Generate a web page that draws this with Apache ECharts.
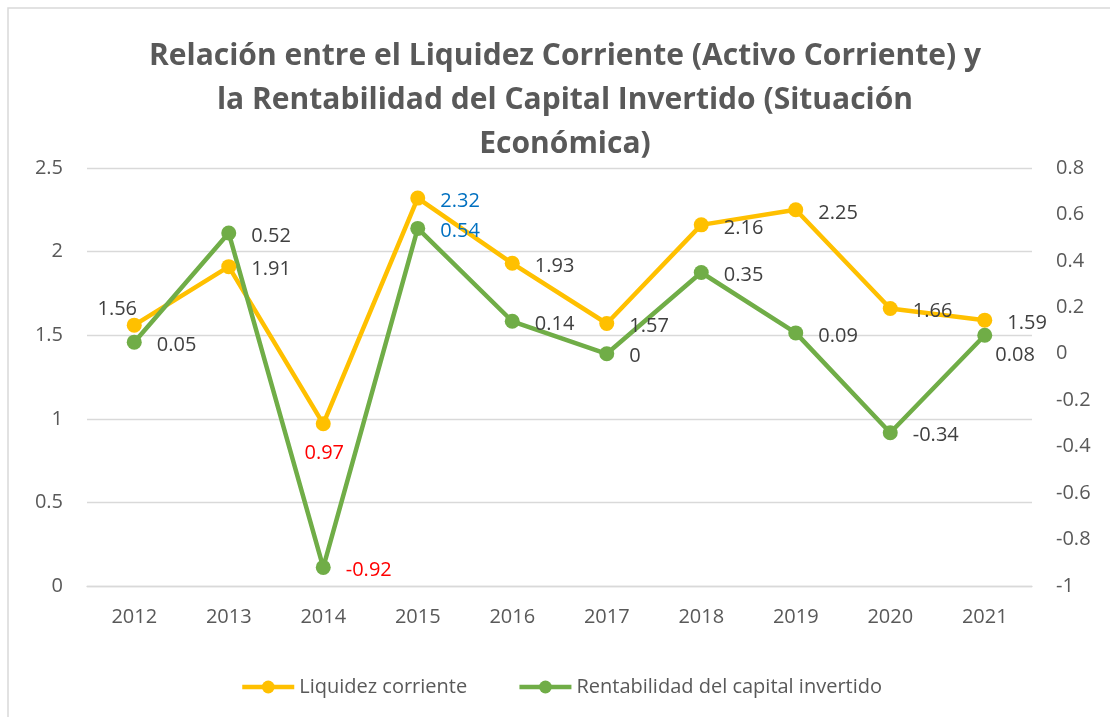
<!DOCTYPE html>
<html lang="es">
<head>
<meta charset="utf-8">
<title>Liquidez corriente vs Rentabilidad</title>
<script src="https://cdn.jsdelivr.net/npm/echarts@6/dist/echarts.min.js"></script>
<style>
    html, body { margin: 0; padding: 0; background: #fff; }
    #chart { width: 1110px; height: 717px; }
</style>
</head>
<body>
<div id="chart"></div>
<script>
// datos
var years = ['2012', '2013', '2014', '2015', '2016', '2017', '2018', '2019', '2020', '2021'];
var liquidez = [1.56, 1.91, 0.97, 2.32, 1.93, 1.57, 2.16, 2.25, 1.66, 1.59];
var rentabilidad = [0.05, 0.52, -0.92, 0.54, 0.14, 0, 0.35, 0.09, -0.34, 0.08];

var FONT = '"Open Sans", "Noto Sans", sans-serif';
var AMARILLO = '#FFC000';
var VERDE = '#70AD47';

// ajustes de etiquetas por punto (color / posicion)
var ajusteLiq = {
    0: { position: 'top', distance: 0, offset: [-17, 2] },
    2: { position: 'bottom', distance: 12, offset: [1, 0], color: '#FF0000' },
    3: { color: '#0070C0' }
};
var ajusteRent = {
    2: { color: '#FF0000' },
    3: { color: '#0070C0' },
    9: { offset: [-12, 20] }
};

function puntos(valores, ajustes) {
    return valores.map(function (v, i) {
        var d = { value: v };
        if (ajustes[i]) d.label = ajustes[i];
        return d;
    });
}

function serie(nombre, valores, color, ajustes, eje) {
    return {
        name: nombre,
        type: 'line',
        yAxisIndex: eje,
        data: puntos(valores, ajustes),
        symbol: 'circle',
        symbolSize: 15,
        lineStyle: { color: color, width: 4.5 },
        itemStyle: { color: color },
        label: {
            show: true,
            position: 'right',
            distance: 15,
            offset: [0, 3],
            color: '#404040',
            fontFamily: FONT,
            fontSize: 20
        },
        emphasis: { disabled: true },
        animation: false
    };
}

var myChart = echarts.init(document.getElementById('chart'));
var option = {
    backgroundColor: '#fff',
    title: {
        text: 'Relación entre el Liquidez Corriente (Activo Corriente) y\nla Rentabilidad del Capital Invertido (Situación\nEconómica)',
        left: 560,
        top: 29,
        textAlign: 'center',
        textStyle: {
            color: '#595959',
            fontFamily: FONT,
            fontWeight: 'bold',
            fontSize: 30,
            lineHeight: 44
        }
    },
    graphic: [{
        type: 'rect',
        shape: { x: 8, y: 8, width: 1200, height: 800 },
        style: { fill: 'none', stroke: '#D9D9D9', lineWidth: 1.5 },
        silent: true
    }],
    legend: {
        left: 235,
        top: 672,
        itemWidth: 52,
        itemHeight: 16,
        itemGap: 50,
        lineStyle: { width: 4.5 },
        textStyle: { color: '#595959', fontFamily: FONT, fontSize: 20 },
        data: ['Liquidez corriente', 'Rentabilidad del capital invertido']
    },
    grid: { left: 87, right: 78, top: 168, bottom: 131 },
    xAxis: {
        type: 'category',
        data: years,
        axisLine: { lineStyle: { color: '#D9D9D9', width: 1.3 } },
        axisTick: { show: false },
        axisLabel: { color: '#595959', fontFamily: FONT, fontSize: 20, margin: 21 }
    },
    yAxis: [{
        type: 'value',
        min: 0,
        max: 2.5,
        interval: 0.5,
        axisLine: { show: false },
        axisTick: { show: false },
        splitLine: { lineStyle: { color: '#D9D9D9', width: 1.3 } },
        axisLabel: { color: '#595959', fontFamily: FONT, fontSize: 20, margin: 24 }
    }, {
        type: 'value',
        min: -1,
        max: 0.8,
        interval: 0.2,
        axisLine: { show: false },
        axisTick: { show: false },
        splitLine: { show: false },
        axisLabel: {
            color: '#595959', fontFamily: FONT, fontSize: 20, margin: 24,
            formatter: function (v) { return String(Math.round(v * 10) / 10); }
        }
    }],
    series: [
        serie('Liquidez corriente', liquidez, AMARILLO, ajusteLiq, 0),
        serie('Rentabilidad del capital invertido', rentabilidad, VERDE, ajusteRent, 1)
    ]
};
myChart.setOption(option);
</script>
</body>
</html>
